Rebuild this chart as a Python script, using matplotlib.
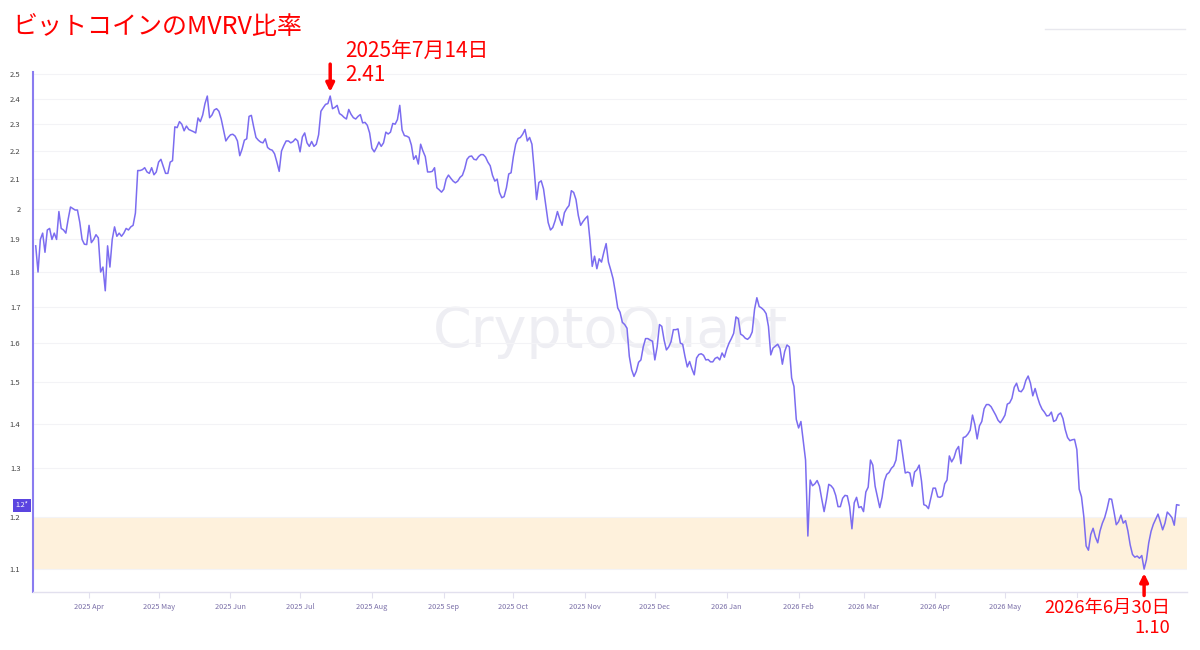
import pandas as pd
import matplotlib
matplotlib.use('Agg')
import matplotlib.pyplot as plt
from matplotlib.lines import Line2D
from matplotlib.ticker import NullLocator

plt.rcParams['font.family'] = ['Noto Sans CJK JP', 'DejaVu Sans']

# daily MVRV ratio, starting 2025-03-09
start_date = '2025-03-09'
mvrv = [
    1.88, 1.80, 1.90, 1.92, 1.86, 1.93, 1.935, 1.90, 1.92, 1.90,
    1.99, 1.935, 1.93, 1.92, 1.965, 2.005, 2.00, 1.995, 1.995, 1.955,
    1.90, 1.885, 1.884, 1.945, 1.89, 1.90, 1.915, 1.905, 1.80, 1.815,
    1.745, 1.88, 1.815, 1.90, 1.94, 1.91, 1.92, 1.91, 1.92, 1.935,
    1.93, 1.94, 1.945, 1.985, 2.13, 2.13, 2.133, 2.14, 2.125, 2.12,
    2.14, 2.115, 2.125, 2.16, 2.17, 2.145, 2.12, 2.12, 2.16, 2.165,
    2.29, 2.287, 2.31, 2.30, 2.275, 2.293, 2.28, 2.276, 2.272, 2.267,
    2.324, 2.31, 2.335, 2.38, 2.41, 2.325, 2.335, 2.355, 2.36, 2.35,
    2.32, 2.278, 2.237, 2.25, 2.26, 2.262, 2.255, 2.237, 2.183, 2.207,
    2.24, 2.245, 2.33, 2.334, 2.29, 2.25, 2.24, 2.233, 2.23, 2.245,
    2.213, 2.206, 2.203, 2.19, 2.16, 2.127, 2.20, 2.22, 2.237, 2.237,
    2.23, 2.235, 2.245, 2.237, 2.197, 2.252, 2.267, 2.23, 2.217, 2.235,
    2.217, 2.225, 2.26, 2.35, 2.364, 2.377, 2.38, 2.41, 2.36, 2.365,
    2.373, 2.341, 2.335, 2.326, 2.32, 2.357, 2.338, 2.325, 2.32, 2.33,
    2.337, 2.305, 2.307, 2.296, 2.267, 2.21, 2.197, 2.213, 2.233, 2.217,
    2.23, 2.27, 2.263, 2.27, 2.303, 2.30, 2.318, 2.373, 2.278, 2.257,
    2.255, 2.25, 2.222, 2.17, 2.183, 2.153, 2.225, 2.20, 2.18, 2.125,
    2.125, 2.127, 2.14, 2.07, 2.063, 2.055, 2.065, 2.10, 2.114, 2.103,
    2.093, 2.087, 2.093, 2.106, 2.113, 2.136, 2.17, 2.18, 2.182, 2.17,
    2.168, 2.18, 2.187, 2.187, 2.178, 2.16, 2.147, 2.113, 2.093, 2.10,
    2.054, 2.036, 2.04, 2.07, 2.118, 2.122, 2.18, 2.225, 2.246, 2.25,
    2.262, 2.28, 2.237, 2.25, 2.225, 2.13, 2.03, 2.088, 2.094, 2.066,
    2.008, 1.954, 1.93, 1.938, 1.96, 1.99, 1.965, 1.945, 1.986, 2.0,
    2.01, 2.06, 2.054, 2.03, 1.977, 1.945, 1.957, 1.967, 1.975, 1.90,
    1.817, 1.848, 1.81, 1.84, 1.83, 1.86, 1.887, 1.83, 1.806, 1.78,
    1.74, 1.696, 1.684, 1.656, 1.65, 1.64, 1.565, 1.531, 1.514, 1.527,
    1.55, 1.556, 1.59, 1.612, 1.612, 1.608, 1.605, 1.556, 1.59, 1.65,
    1.645, 1.608, 1.582, 1.59, 1.604, 1.636, 1.636, 1.638, 1.60, 1.597,
    1.565, 1.538, 1.552, 1.533, 1.518, 1.561, 1.57, 1.572, 1.568, 1.556,
    1.557, 1.551, 1.551, 1.56, 1.563, 1.556, 1.574, 1.563, 1.584, 1.60,
    1.612, 1.626, 1.671, 1.666, 1.624, 1.62, 1.613, 1.61, 1.616, 1.63,
    1.692, 1.725, 1.70, 1.696, 1.69, 1.68, 1.645, 1.569, 1.587, 1.592,
    1.597, 1.585, 1.545, 1.578, 1.595, 1.59, 1.51, 1.489, 1.41, 1.39,
    1.405, 1.36, 1.318, 1.162, 1.275, 1.263, 1.267, 1.274, 1.262, 1.235,
    1.21, 1.235, 1.266, 1.263, 1.257, 1.243, 1.22, 1.22, 1.237, 1.243,
    1.242, 1.22, 1.176, 1.228, 1.239, 1.218, 1.22, 1.21, 1.25, 1.26,
    1.318, 1.307, 1.262, 1.24, 1.218, 1.239, 1.273, 1.287, 1.291, 1.30,
    1.305, 1.318, 1.362, 1.362, 1.326, 1.29, 1.292, 1.29, 1.262, 1.292,
    1.297, 1.307, 1.273, 1.224, 1.222, 1.216, 1.237, 1.258, 1.258, 1.24,
    1.239, 1.242, 1.267, 1.275, 1.327, 1.314, 1.323, 1.34, 1.348, 1.31,
    1.368, 1.37, 1.376, 1.385, 1.42, 1.398, 1.365, 1.395, 1.405, 1.435,
    1.445, 1.445, 1.44, 1.43, 1.42, 1.408, 1.402, 1.41, 1.42, 1.446,
    1.449, 1.46, 1.487, 1.497, 1.478, 1.476, 1.484, 1.504, 1.515, 1.497,
    1.466, 1.484, 1.463, 1.446, 1.434, 1.427, 1.418, 1.419, 1.427, 1.405,
    1.408, 1.421, 1.425, 1.412, 1.386, 1.368, 1.361, 1.363, 1.364, 1.341,
    1.256, 1.24, 1.20, 1.143, 1.135, 1.165, 1.177, 1.16, 1.149, 1.172,
    1.187, 1.198, 1.215, 1.236, 1.235, 1.21, 1.184, 1.19, 1.203, 1.187,
    1.192, 1.172, 1.145, 1.127, 1.122, 1.124, 1.12, 1.125, 1.10, 1.117,
    1.149, 1.171, 1.185, 1.195, 1.205, 1.19, 1.174, 1.187, 1.209, 1.204,
    1.198, 1.183, 1.224, 1.223,
]
dates = pd.date_range(start_date, periods=len(mvrv), freq='D')

y_ticks = [1.1, 1.2, 1.3, 1.4, 1.5, 1.6, 1.7, 1.8, 1.9, 2.0, 2.1, 2.2, 2.3, 2.4, 2.5]
y_labels = ['1.1', '1.2', '1.3', '1.4', '1.5', '1.6', '1.7', '1.8', '1.9', '2',
            '2.1', '2.2', '2.3', '2.4', '2.5']
month_ticks = pd.date_range('2025-04-01', '2026-06-01', freq='MS')
month_labels = [d.strftime('%Y %b') for d in month_ticks]
month_labels[-1] = ''  # hidden under the annotation

band_low, band_high = 1.1, 1.2
title = 'ビットコインのMVRV比率'
peak_date, peak_text = '2025-07-14', '2025年7月14日\n2.41'
low_date, low_text = '2026-06-30', '2026年6月30日\n1.10'
current_label = '1.2*'

line_color = '#7b6cf0'
red = '#ff0000'

fig = plt.figure(figsize=(12, 6.5), dpi=100)
ax = fig.add_axes([33 / 1200, 58 / 650, 1154 / 1200, 520 / 650])

ax.axhspan(band_low, band_high, color='#fef1dc', lw=0, zorder=0)
ax.plot(dates, mvrv, color=line_color, lw=1.1, zorder=3)

ax.set_yscale('log')
ax.set_ylim(1.059, 2.508)
ax.set_xlim(dates[0] - pd.Timedelta(hours=28), dates[-1] + pd.Timedelta(days=3.5))
ax.yaxis.set_minor_locator(NullLocator())
ax.set_yticks(y_ticks)
ax.set_yticklabels(y_labels)
ax.set_xticks(month_ticks)
ax.set_xticklabels(month_labels)
ax.xaxis.set_minor_locator(NullLocator())
ax.tick_params(axis='y', length=0, pad=9, labelsize=5.5, labelcolor='#444444')
ax.tick_params(axis='x', length=4, width=0.8, color='#e2e0ee', pad=4,
               labelsize=5.3, labelcolor='#7a6fa8')
ax.grid(axis='y', color='#f3f3f6', lw=0.8, zorder=1)
ax.grid(axis='x', visible=False)

for s in ['top', 'right']:
    ax.spines[s].set_visible(False)
ax.spines['left'].set_color('#8a7cf0')
ax.spines['left'].set_linewidth(1.5)
ax.spines['bottom'].set_color('#e2e0ee')
ax.spines['bottom'].set_linewidth(1)

# watermark
ax.text(0.5, 0.5, 'CryptoQuant', transform=ax.transAxes, fontsize=40,
        color='#eeeef3', ha='center', va='center', family='DejaVu Sans', zorder=1)

# current value marker
ax.annotate(current_label, xy=(0, mvrv[-1]), xycoords=('axes fraction', 'data'),
            xytext=(-3.5, 0), textcoords='offset points', ha='right', va='center',
            fontsize=5, color='white',
            bbox=dict(boxstyle='square,pad=0.35', fc='#5b45e0', ec='none'))

# peak annotation
peak_val = mvrv[dates.get_loc(pd.Timestamp(peak_date))]
ax.annotate('', xy=(pd.Timestamp(peak_date), peak_val), xytext=(0, 23),
            textcoords='offset points',
            arrowprops=dict(arrowstyle='-|>', color=red, lw=2.5, mutation_scale=12,
                            shrinkA=0, shrinkB=3))
ax.annotate(peak_text, xy=(pd.Timestamp(peak_date), peak_val), xytext=(11, 40.5),
            textcoords='offset points', ha='left', va='top', fontsize=15,
            color=red, linespacing=1.15, annotation_clip=False)

# low annotation
low_val = mvrv[dates.get_loc(pd.Timestamp(low_date))]
ax.annotate('', xy=(pd.Timestamp(low_date), low_val), xytext=(0, -19),
            textcoords='offset points',
            arrowprops=dict(arrowstyle='-|>', color=red, lw=2.5, mutation_scale=12,
                            shrinkA=0, shrinkB=3))
ax.annotate(low_text, xy=(pd.Timestamp(low_date), low_val), xytext=(19, -21.5),
            textcoords='offset points', ha='right', va='top', fontsize=13.2,
            color=red, linespacing=1.15, multialignment='right',
            annotation_clip=False,
            bbox=dict(boxstyle='square,pad=0.05', fc='white', ec='none'))

fig.text(12 / 1200, 1 - 27 / 650, title, fontsize=18, color=red, va='center')
fig.add_artist(Line2D([1045 / 1200, 1185 / 1200], [1 - 29 / 650, 1 - 29 / 650],
                      color='#e8e8ee', lw=1))

fig.savefig('out.png', dpi=100)
